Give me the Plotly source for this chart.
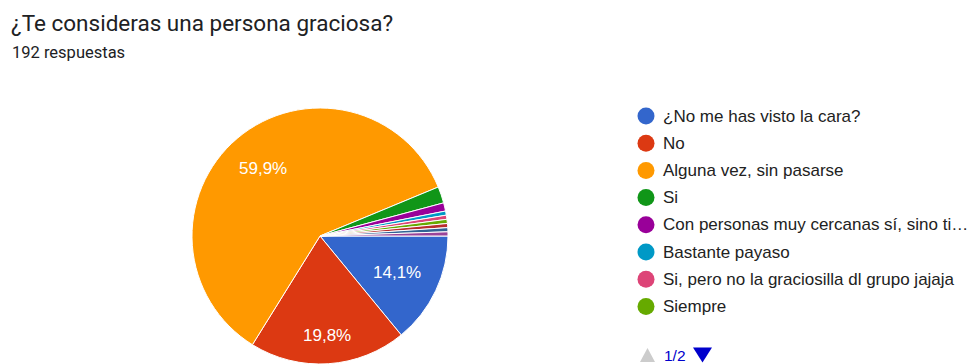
import math
import plotly.graph_objects as go

# Survey answers (192 respuestas), in legend order
labels = [
    "¿No me has visto la cara?",
    "No",
    "Alguna vez, sin pasarse",
    "Si",
    "Con personas muy cercanas sí, sino ti…",
    "Bastante payaso",
    "Si, pero no la graciosilla dl grupo jajaja",
    "Siempre",
    "Otra respuesta A",
    "Otra respuesta B",
    "Otra respuesta C",
]
counts = [27, 38, 115, 4, 2, 1, 1, 1, 1, 1, 1]
colors = ["#3366cc", "#dc3912", "#ff9900", "#109618", "#990099", "#0099c6",
          "#dd4477", "#66aa00", "#b82e2e", "#316395", "#994499"]
legend_page_size = 8
page_text = "1/2"

title = "¿Te consideras una persona graciosa?"
subtitle = "192 respuestas"

W, H = 970, 364
total = sum(counts)

# pie geometry in pixels (hidden axes map 1:1 to pixels)
cx, cy, R = 320, 236, 128
start_deg = 0  # first slice starts at 3 o'clock, going clockwise

fig = go.Figure()

fig.add_trace(go.Pie(
    labels=labels,
    values=counts,
    marker=dict(colors=colors, line=dict(color="white", width=1)),
    sort=False,
    direction="clockwise",
    rotation=90,
    textinfo="none",
    domain=dict(x=[(cx - R) / W, (cx + R) / W], y=[1 - (cy + R) / H, 1 - (cy - R) / H]),
    showlegend=False,
    hoverinfo="label+value+percent",
))

# percentage labels on the large slices, pushed out until the text box
# reaches a fixed fraction of the radius along the slice's mid-angle
label_font = 17
hw, hh = 24, 8.5
acc = 0
for c in counts:
    frac = c / total
    mid = math.radians(start_deg + (acc + c / 2) / total * 360)
    acc += c
    if frac < 0.05:
        continue
    ux, uy = math.cos(mid), math.sin(mid)
    d = 0.86 * R - (hw * abs(ux) + hh * abs(uy))
    fig.add_annotation(
        x=cx + d * ux, y=cy + d * uy, xref="x", yref="y",
        text=f"{frac * 100:.1f}%".replace(".", ","), showarrow=False,
        xanchor="center", yanchor="middle",
        font=dict(size=label_font, color="white", family="Liberation Sans, Arial"),
    )

# legend: first page of entries
leg_x, leg_y0, leg_dy = 646, 116, 27.2
ys = [leg_y0 + i * leg_dy for i in range(legend_page_size)]
fig.add_trace(go.Scatter(
    x=[leg_x] * legend_page_size,
    y=ys,
    mode="markers",
    marker=dict(size=17, color=colors[:legend_page_size], line=dict(width=0)),
    hoverinfo="skip",
    showlegend=False,
))
for lab, y in zip(labels[:legend_page_size], ys):
    fig.add_annotation(x=leg_x + 15, y=y, text=lab, showarrow=False,
                       xanchor="left", yanchor="middle", xref="x", yref="y",
                       font=dict(size=17, color="#222222", family="Liberation Sans, Arial"))

# pager: grey "previous" arrow, page counter, blue "next" arrow
py = 355
up = (leg_x + 1.5, py)
down = (leg_x + 56.5, py)
fig.add_shape(type="path", xref="x", yref="y", line=dict(width=0), fillcolor="#cccccc",
              path=f"M {up[0] - 7.5} {up[1] + 7} L {up[0] + 7.5} {up[1] + 7} L {up[0]} {up[1] - 7} Z")
fig.add_shape(type="path", xref="x", yref="y", line=dict(width=0), fillcolor="#0000cc",
              path=f"M {down[0] - 9.5} {down[1] - 7.5} L {down[0] + 9.5} {down[1] - 7.5} L {down[0]} {down[1] + 7.5} Z")
fig.add_annotation(x=leg_x + 16, y=py, text=page_text, showarrow=False, xref="x", yref="y",
                   xanchor="left", yanchor="middle",
                   font=dict(size=15.5, color="#0000cc", family="Liberation Sans, Arial"))

# heading
fig.add_annotation(x=9, y=23, text=title, showarrow=False, xref="x", yref="y",
                   xanchor="left", yanchor="middle",
                   font=dict(size=22.5, color="#202124", family="Roboto"))
fig.add_annotation(x=10, y=52, text=subtitle, showarrow=False, xref="x", yref="y",
                   xanchor="left", yanchor="middle",
                   font=dict(size=16.5, color="#202124", family="Roboto"))

fig.update_layout(
    width=W, height=H,
    margin=dict(l=0, r=0, t=0, b=0),
    paper_bgcolor="white", plot_bgcolor="white",
    xaxis=dict(range=[0, W], visible=False, fixedrange=True, domain=[0, 1]),
    yaxis=dict(range=[H, 0], visible=False, fixedrange=True, domain=[0, 1]),
)

fig.write_html("out.html")
